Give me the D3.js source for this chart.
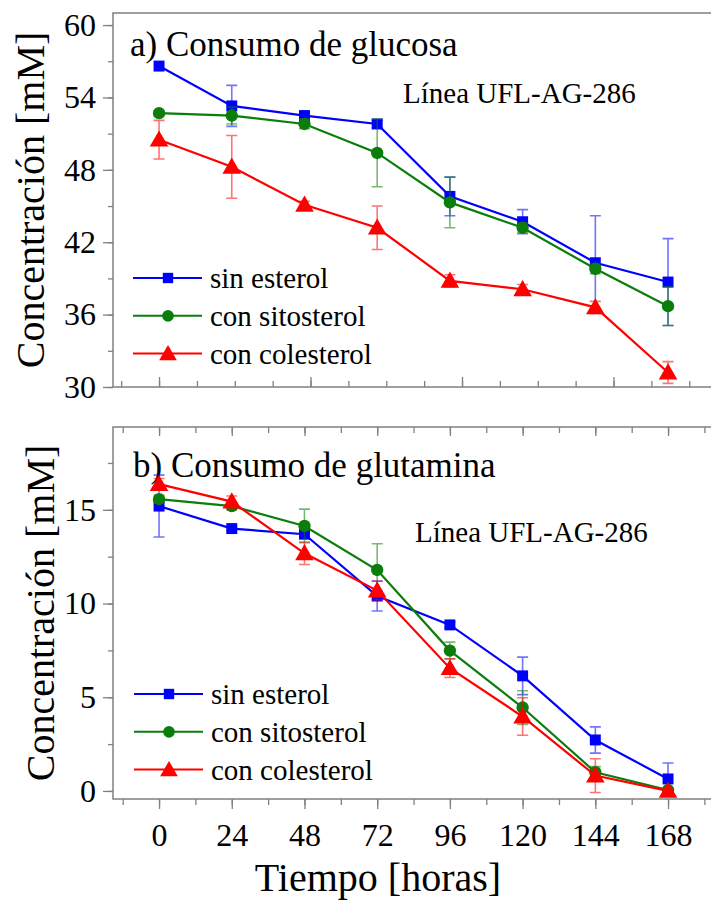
<!DOCTYPE html>
<html>
<head>
<meta charset="utf-8">
<script src="https://cdn.jsdelivr.net/npm/d3@7"></script>
<style>
  body { margin: 0; background: #fff; }
</style>
</head>
<body>
<div id="app"></div>
<script>
// time points (hours)
const hours = [0, 24, 48, 72, 96, 120, 144, 168];

// a) glucose consumption [mM]
const glucSin = [56.6, 53.3, 52.5, 51.8, 45.8, 43.7, 40.3, 38.7];
const glucSinErr = [0, 1.7, 0.3, 0.3, 1.6, 1.0, 3.9, 3.6];
const glucSito = [52.7, 52.5, 51.8, 49.4, 45.3, 43.2, 39.8, 36.7];
const glucSitoErr = [0.2, 0.7, 0.4, 2.8, 2.1, 0.4, 0.4, 1.6];
const glucCol = [50.5, 48.25, 45.1, 43.2, 38.8, 38.1, 36.6, 31.2];
const glucColErr = [1.6, 2.6, 0.3, 1.8, 0.5, 0.4, 0.5, 0.9];

// b) glutamine consumption [mM]
const gluSin = [15.2, 14.0, 13.7, 10.4, 8.86, 6.14, 2.72, 0.64];
const gluSinErr = [1.65, 0.1, 0.2, 0.8, 0.15, 1.0, 0.7, 0.85];
const gluSito = [15.57, 15.2, 14.14, 11.79, 7.49, 4.45, 1.0, 0.05];
const gluSitoErr = [0.2, 0.2, 0.9, 1.4, 0.45, 0.9, 0.3, 0.1];
const gluCol = [16.37, 15.44, 12.68, 10.69, 6.55, 3.97, 0.82, 0.0];
const gluColErr = [0.3, 0.3, 0.6, 0.5, 0.5, 1.0, 0.9, 0.1];

const seriesNames = ['sin esterol', 'con sitosterol', 'con colesterol'];
const seriesColors = ['#0000ff', '#0a7d0a', '#ff0000'];
const seriesSymbols = [d3.symbolSquare, d3.symbolCircle, d3.symbolTriangle];
const symbolSizes = [120, 120, 150];

const topTicks = [30, 36, 42, 48, 54, 60];
const botTicks = [0, 5, 10, 15];
const xTicks = hours;

const width = 711;
const height = 900;
const axisColor = '#808080';
const serif = '"Liberation Serif", "Times New Roman", Times, serif';

const svg = d3.select('#app').append('svg')
  .attr('width', width)
  .attr('height', height)
  .attr('viewBox', `0 0 ${width} ${height}`);

svg.append('rect').attr('width', width).attr('height', height).attr('fill', '#fff');

const x = d3.scaleLinear().domain([-15.2, 186.8]).range([113, 725]);
const yTop = d3.scaleLinear().domain([30, 61]).range([387, 13]);
const yBot = d3.scaleLinear().domain([-0.43, 19.42]).range([799, 427]);

const txt = (sel, size) => sel.style('font-family', serif).style('font-size', size + 'px').attr('fill', '#000');

const styleAxis = g => {
  g.select('.domain').remove();
  g.selectAll('line').attr('stroke', axisColor).attr('stroke-width', 1.3);
  g.selectAll('text').call(txt, 32);
};

const drawPanel = (y, yTickVals, yMinorStep, opts) => {
  const [x0, x1] = x.range();
  const [yb, yt] = y.range();
  const g = svg.append('g');

  // y axis, outward ticks
  const minorStart = Math.max(0, yTickVals[0]);
  g.append('g')
    .attr('transform', `translate(${x0},0)`)
    .call(d3.axisLeft(y).tickValues(d3.range(minorStart, yTickVals[yTickVals.length - 1] + 3.01, yMinorStep)
      .filter(v => y(v) >= yt)).tickSize(5).tickFormat(''))
    .call(styleAxis);
  g.append('g')
    .attr('transform', `translate(${x0},0)`)
    .call(d3.axisLeft(y).tickValues(yTickVals).tickSize(10).tickPadding(7).tickFormat(d3.format('d')))
    .call(styleAxis);

  // bottom axis
  if (opts.bottomLabels) {
    g.append('g')
      .attr('transform', `translate(0,${yb})`)
      .call(d3.axisBottom(x).tickValues(d3.range(-12, 185, 12)).tickSize(6).tickFormat(''))
      .call(styleAxis);
    g.append('g')
      .attr('transform', `translate(0,${yb})`)
      .call(d3.axisBottom(x).tickValues(xTicks).tickSize(10).tickPadding(14).tickFormat(d3.format('d')))
      .call(styleAxis);
  } else {
    g.append('g')
      .attr('transform', `translate(0,${yb})`)
      .call(d3.axisTop(x).tickValues(d3.range(-12.5, 185, 12.5)).tickSize(6).tickFormat(''))
      .call(styleAxis);
    g.append('g')
      .attr('transform', `translate(0,${yb})`)
      .call(d3.axisTop(x).tickValues([0, 50, 100, 150]).tickSize(10).tickFormat(''))
      .call(styleAxis);
  }
  if (opts.topTicks) {
    g.append('g')
      .attr('transform', `translate(0,${yt})`)
      .call(d3.axisBottom(x).tickValues(d3.range(-12, 185, 12)).tickSize(6).tickFormat(''))
      .call(styleAxis);
    g.append('g')
      .attr('transform', `translate(0,${yt})`)
      .call(d3.axisBottom(x).tickValues(xTicks).tickSize(9).tickFormat(''))
      .call(styleAxis);
  }

  // frame
  g.append('path')
    .attr('d', `M${x1},${yt}H${x0}V${yb}H${x1}`)
    .attr('fill', 'none')
    .attr('stroke', axisColor)
    .attr('stroke-width', 1.5);

  // y label
  g.append('text')
    .attr('transform', `translate(${opts.labelX},${(yb + yt) / 2}) rotate(-90)`)
    .attr('text-anchor', 'middle')
    .call(txt, 40)
    .text('Concentración [mM]');

  // title + cell line
  g.append('text').attr('x', opts.titleX).attr('y', opts.titleY).call(txt, 35).text(opts.title);
  g.append('text').attr('x', opts.lineX).attr('y', opts.lineY).call(txt, 29).text('Línea UFL-AG-286');

  // series
  opts.series.forEach(([vals, errs], i) => {
    const color = seriesColors[i];
    const pts = hours.map((h, j) => ({ h, v: vals[j], e: errs[j] }));
    const s = g.append('g');

    s.selectAll('.err').data(pts.filter(p => p.e > 0)).enter().append('path')
      .attr('d', p => {
        const cx = x(p.h), lo = y(p.v - p.e), hi = y(p.v + p.e);
        return `M${cx},${lo}V${hi}M${cx - 5.5},${hi}H${cx + 5.5}M${cx - 5.5},${lo}H${cx + 5.5}`;
      })
      .attr('fill', 'none')
      .attr('stroke', color)
      .attr('stroke-opacity', 0.55)
      .attr('stroke-width', 1.6);

    s.append('path')
      .datum(pts)
      .attr('d', d3.line().x(p => x(p.h)).y(p => y(p.v)))
      .attr('fill', 'none')
      .attr('stroke', color)
      .attr('stroke-width', 2.2);

    s.selectAll('.mk').data(pts).enter().append('path')
      .attr('transform', p => `translate(${x(p.h)},${y(p.v) + (i === 2 ? 1.5 : 0)})`)
      .attr('d', d3.symbol().type(seriesSymbols[i]).size(symbolSizes[i]))
      .attr('fill', color);
  });

  // legend
  seriesNames.forEach((name, i) => {
    const ly = opts.legendY + i * 37.8;
    const lg = g.append('g').attr('transform', `translate(${opts.legendX},${ly})`);
    lg.append('line').attr('x1', 0).attr('x2', 69).attr('stroke', seriesColors[i]).attr('stroke-width', 2);
    lg.append('path')
      .attr('transform', `translate(35,${i === 2 ? 1.5 : 0})`)
      .attr('d', d3.symbol().type(seriesSymbols[i]).size(symbolSizes[i] * 0.9))
      .attr('fill', seriesColors[i]);
    lg.append('text').attr('x', 77).attr('y', 10).call(txt, 29).text(name);
  });
};

drawPanel(yTop, topTicks, 3, {
  bottomLabels: false,
  topTicks: false,
  labelX: 44,
  title: 'a) Consumo de glucosa',
  titleX: 130, titleY: 56,
  lineX: 403, lineY: 103,
  legendX: 133, legendY: 278,
  series: [[glucSin, glucSinErr], [glucSito, glucSitoErr], [glucCol, glucColErr]]
});

drawPanel(yBot, botTicks, 2.5, {
  bottomLabels: true,
  topTicks: true,
  labelX: 54,
  title: 'b) Consumo de glutamina',
  titleX: 133, titleY: 477,
  lineX: 415, lineY: 542,
  legendX: 134, legendY: 694,
  series: [[gluSin, gluSinErr], [gluSito, gluSitoErr], [gluCol, gluColErr]]
});

svg.append('text')
  .attr('x', 378)
  .attr('y', 891)
  .attr('text-anchor', 'middle')
  .call(txt, 40)
  .text('Tiempo [horas]');
</script>
</body>
</html>
